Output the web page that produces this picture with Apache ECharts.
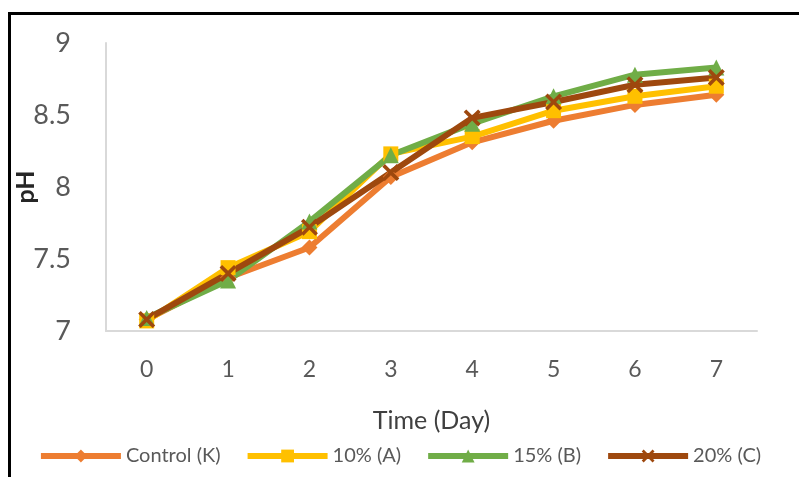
<!DOCTYPE html>
<html>
<head>
<meta charset="utf-8">
<script src="https://cdn.jsdelivr.net/npm/echarts@6/dist/echarts.min.js"></script>
<style>html,body{margin:0;padding:0;background:#fff}#c{width:799px;height:477px}</style>
</head>
<body>
<div id="c"></div>
<script>
var days = ['0','1','2','3','4','5','6','7'];
var yTicks = [7, 7.5, 8, 8.5, 9];
var controlK = [7.08, 7.37, 7.58, 8.07, 8.31, 8.46, 8.57, 8.64];
var pct10A   = [7.07, 7.44, 7.69, 8.23, 8.35, 8.53, 8.63, 8.70];
var pct15B   = [7.09, 7.35, 7.76, 8.22, 8.44, 8.63, 8.78, 8.83];
var pct20C   = [7.08, 7.40, 7.72, 8.10, 8.48, 8.59, 8.71, 8.76];
var seriesNames = ['Control (K)', '10% (A)', '15% (B)', '20% (C)'];

var FONT = 'Lato';
var xPath = 'path://M0,3 L3,0 L10,7 L17,0 L20,3 L13,10 L20,17 L17,20 L10,13 L3,20 L0,17 L7,10 Z';
function mk(name, data, color, symbol, size) {
  return {
    name: name, type: 'line', data: data,
    symbol: symbol, symbolSize: size,
    lineStyle: { color: color, width: 6 },
    itemStyle: { color: color },
    emphasis: { disabled: true }
  };
}
var chart = echarts.init(document.getElementById('c'), null, { renderer: 'canvas' });
chart.setOption({
  animation: false,
  backgroundColor: '#fff',
  textStyle: { fontFamily: FONT },
  graphic: [{
    type: 'rect', shape: { x: 9.5, y: 13.5, width: 900, height: 600 },
    style: { fill: 'none', stroke: '#000', lineWidth: 3 }, silent: true
  }],
  grid: { left: 106, right: 42, top: 43, bottom: 146, containLabel: false, outerBoundsMode: 'none' },
  xAxis: {
    type: 'category', data: days, boundaryGap: true,
    name: 'Time (Day)', nameLocation: 'middle', nameGap: 77, nameMoveOverlap: false,
    nameTextStyle: { fontFamily: FONT, fontSize: 25, color: '#404040' },
    axisLine: { show: true, lineStyle: { color: '#d9d9d9', width: 2 } },
    axisTick: { show: false },
    axisLabel: { fontFamily: FONT, fontSize: 23, color: '#595959', margin: 27 },
    splitLine: { show: false }
  },
  yAxis: {
    type: 'value', min: yTicks[0], max: yTicks[yTicks.length - 1], interval: 0.5,
    name: 'pH', nameLocation: 'middle', nameGap: 68, nameRotate: 90, nameMoveOverlap: false,
    nameTextStyle: { fontFamily: FONT, fontSize: 25, color: '#262626', fontWeight: 'bold' },
    axisLine: { show: true, lineStyle: { color: '#d9d9d9', width: 2 } },
    axisTick: { show: false },
    axisLabel: { fontFamily: FONT, fontSize: 27, color: '#595959', margin: 35 },
    splitLine: { show: false }
  },
  legend: {
    data: seriesNames, left: 'center', top: 441,
    itemWidth: 80, itemHeight: 16, itemGap: 24,
    lineStyle: { width: 6 },
    textStyle: { fontFamily: FONT, fontSize: 20, color: '#595959' }
  },
  series: [
    mk(seriesNames[0], controlK, '#ED7D31', 'diamond', 16),
    mk(seriesNames[1], pct10A, '#FFC000', 'rect', 15),
    mk(seriesNames[2], pct15B, '#70AD47', 'triangle', 16),
    mk(seriesNames[3], pct20C, '#9E480E', xPath, 17)
  ]
});
</script>
</body>
</html>
